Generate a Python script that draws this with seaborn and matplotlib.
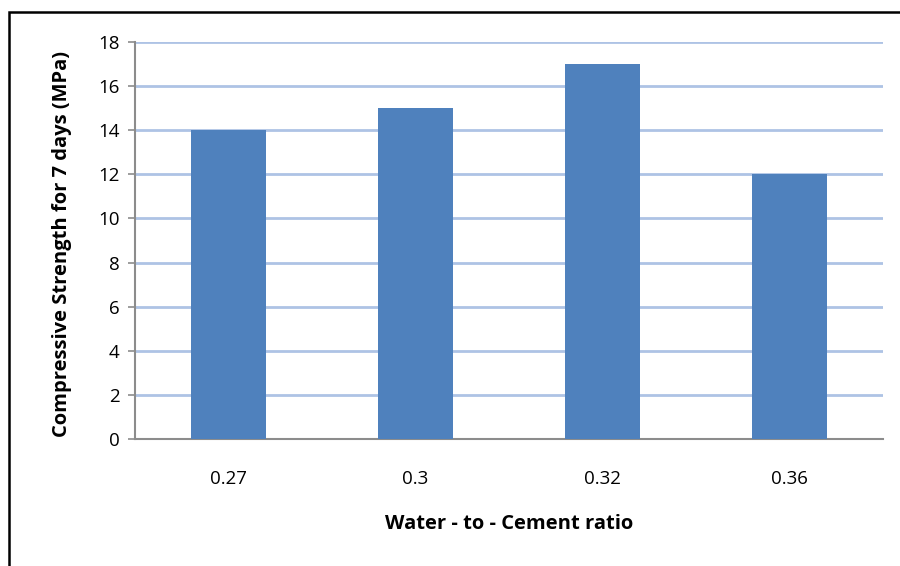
import matplotlib
matplotlib.use("Agg")
import matplotlib.pyplot as plt
import seaborn as sns
import pandas as pd
from matplotlib.patches import Rectangle

# Compressive strength at 7 days for each water-to-cement ratio
ratios = ["0.27", "0.3", "0.32", "0.36"]
strength = [14, 15, 17, 12]
y_ticks = [0, 2, 4, 6, 8, 10, 12, 14, 16, 18]

df = pd.DataFrame({"ratio": ratios, "strength": strength})

sns.set_theme(style="white")
plt.rcParams["font.family"] = ["Open Sans", "DejaVu Sans"]

fig = plt.figure(figsize=(9, 5.66), dpi=100)
ax = fig.add_axes([135 / 900, 1 - 439 / 566, (883 - 135) / 900, (439 - 42) / 566])

sns.barplot(data=df, x="ratio", y="strength", color="#4F81BD", width=0.4,
            saturation=1, ax=ax, zorder=3, edgecolor="#4F81BD", linewidth=0)

ax.set_ylim(0, 18)
ax.set_yticks(y_ticks)
ax.set_yticklabels([str(v) for v in y_ticks], fontsize=13.5, color="black")
ax.tick_params(axis="x", labelsize=13.5, labelcolor="black", length=0, pad=22)
ax.tick_params(axis="y", length=5, width=1.2, color="#8C8C8C", pad=6, left=True)
ax.set_xlim(-0.5, len(ratios) - 0.5)

for v in y_ticks[1:]:
    ax.axhline(v, color="#AEC3E5", linewidth=2, zorder=1)

for side in ["top", "right"]:
    ax.spines[side].set_visible(False)
for side in ["left", "bottom"]:
    ax.spines[side].set_color("#8C8C8C")
    ax.spines[side].set_linewidth(1.5)

ax.set_xlabel("Water - to - Cement ratio", fontsize=14.5, fontweight="bold",
              color="black")
ax.xaxis.set_label_coords(0.5, -(514 - 439) / 397)
ax.set_ylabel("Compressive Strength for 7 days (MPa)", fontsize=14.5, fontweight="bold",
              color="black")
ax.yaxis.set_label_coords(-63 / 748, 0.49)

# Frame around the chart area
fig.patches.append(Rectangle((9 / 900, -0.1), 1.0, 1 - 12 / 566 + 0.1, transform=fig.transFigure,
                             fill=False, edgecolor="black", linewidth=1.8, zorder=0))

fig.savefig("out.png", dpi=100)
